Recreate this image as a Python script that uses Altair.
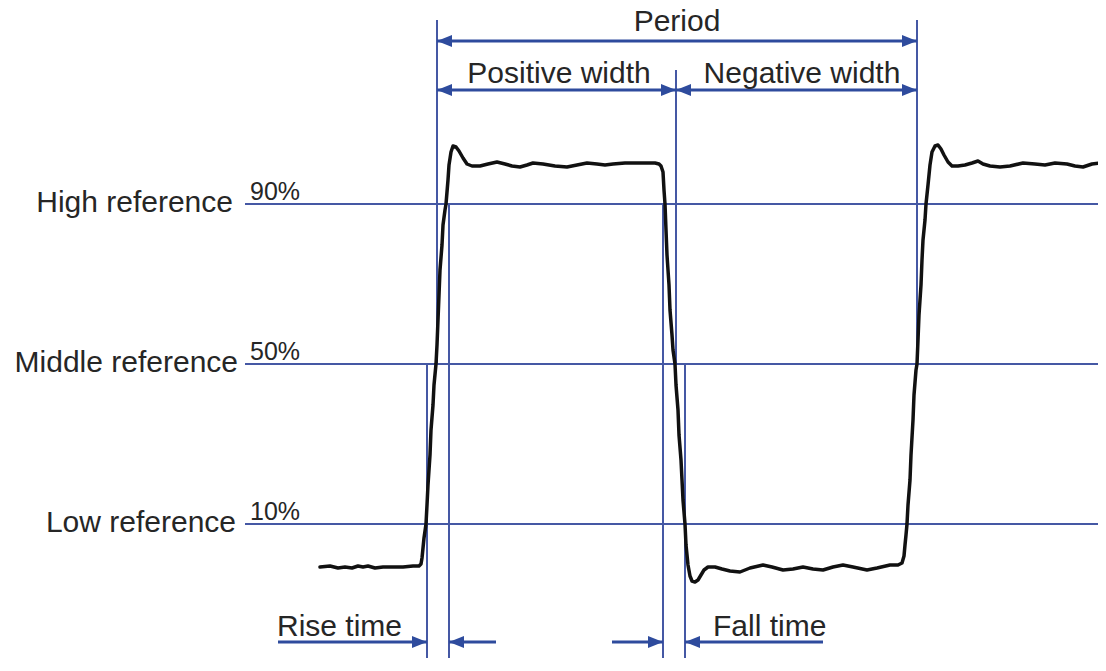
import altair as alt
import pandas as pd

# ---------------- waveform (time units, level in % of amplitude) ----------------
t_low1 = [320, 330, 338, 345, 352, 358, 363, 368, 375, 383, 393, 403, 413, 419]
v_low1 = [-0.75, -0.5, -1, -0.75, -1, -0.5, -0.75, -0.5, -1, -0.75, -0.75, -0.75, -0.5, -0.5]

t_rise1 = [421, 422, 423, 424, 426, 427, 428, 430, 431, 433, 434, 436, 437, 438, 439, 440, 442, 443, 445, 446]
v_rise1 = [0, 1.5, 4, 6.5, 10, 14.75, 19.75, 27.25, 33.5, 39.75, 44.75, 50, 54.75, 61, 67.25, 73.5, 79.75, 84.75, 88.5, 90]

t_top1 = [448, 449, 451, 453, 456, 459, 463, 467, 472, 480, 488, 497, 505, 512, 520, 527, 533, 543, 555, 567,
          577, 587, 597, 605, 613, 625, 640, 650, 655, 659, 661]
v_top1 = [96, 99.75, 103, 104.5, 104.25, 103.25, 101.5, 100, 99.5, 99.5, 100, 100.5, 100, 99.5, 99.25, 99.75,
          100.25, 100, 99.5, 99.25, 99.75, 100.25, 100, 99.75, 100, 100.25, 100.25, 100.25, 100.25, 100, 99.5]

t_fall = [663, 664, 665, 666, 667, 669, 670, 672, 673, 675, 676, 678, 679, 681, 682, 683, 685, 686, 688, 690,
          692, 695, 698, 701, 704, 708]
v_fall = [98, 93.5, 90, 83.5, 77.25, 69.75, 63.5, 57.25, 53.5, 50, 44.75, 38.5, 32.25, 26, 21, 16, 10, 4.75,
          -0.25, -3, -4.25, -4.5, -4, -2.75, -1.5, -0.75]

t_low2 = [715, 722, 730, 740, 750, 763, 772, 783, 793, 803, 813, 823, 833, 843, 853, 867, 877, 890, 898]
v_low2 = [-0.75, -1.25, -1.75, -2, -1, -0.25, -0.75, -1.5, -1.25, -0.75, -1.25, -1.5, -0.75, -0.25, -0.75,
          -1.5, -1, -0.25, -0.25]

t_rise2 = [902, 904, 905, 906, 907, 908, 910, 911, 913, 914, 916, 917, 918, 919, 921, 922, 923, 925, 926]
v_rise2 = [0.25, 2, 4.75, 7.25, 10, 14.75, 21, 27.25, 36, 42.25, 48.5, 50, 56, 62.25, 69.75, 76, 81, 86, 90]

t_top2 = [928, 930, 932, 935, 938, 941, 944, 948, 952, 958, 965, 972, 978, 983, 990, 1000, 1010, 1023, 1035,
          1045, 1055, 1067, 1075, 1083, 1092, 1100, 1106]
v_top2 = [94.75, 99.75, 103, 104.5, 104.75, 103.75, 102.25, 100.5, 99.5, 99.5, 99.75, 100.25, 100.75, 100,
          99.5, 99.25, 99.5, 100.25, 100, 99.75, 100.25, 100, 99.5, 99.25, 100, 100.25, 100.25]

# ---------------- reference levels ----------------
ref_levels = [90, 50, 10]
ref_names = ["High reference", "Middle reference", "Low reference"]
ref_name_end = [233, 238, 236]
ref_name_base = [88, 48, 8]
ref_pct = ["90%", "50%", "10%"]
ref_pct_base = [91, 51, 11]
ref_start, ref_end = 245, 1106

# ---------------- measurement guides (time, top level, bottom level) ----------------
guide_t = [437, 917, 676, 427, 449, 663, 685]
guide_top = [136, 136, 123.5, 50, 90, 90, 50]
guide_bot = [50, 50, 50, -27, -27, -27, -27]

# ---------------- dimension arrows ----------------
arrow_t1 = [437, 437, 676, 278, 449, 612, 685]
arrow_t2 = [917, 676, 917, 427, 496, 663, 823]
arrow_v = [130.75, 118.5, 118.5, -19.5, -19.5, -19.5, -19.5]

head_t = [437, 917, 437, 676, 676, 917, 427, 449, 663, 685]
head_v = [130.75, 130.75, 118.5, 118.5, 118.5, 118.5, -19.5, -19.5, -19.5, -19.5]
head_dir = ["left", "right", "left", "right", "left", "right", "right", "left", "right", "left"]

# ---------------- annotation texts ----------------
center_text = ["Period", "Positive width", "Negative width"]
center_t = [677, 559, 802]
center_v = [133.25, 120.25, 120.25]

left_text = ["Rise time", "Fall time"]
left_t = [277, 713]
left_v = [-18, -18]

# ---------------- build tables ----------------
wave_t = t_low1 + t_rise1 + t_top1 + t_fall + t_low2 + t_rise2 + t_top2
wave_v = v_low1 + v_rise1 + v_top1 + v_fall + v_low2 + v_rise2 + v_top2
wave = pd.DataFrame({"t": wave_t, "v": wave_v, "i": list(range(len(wave_t)))})

refs = pd.DataFrame({"v": ref_levels, "t1": [ref_start] * 3, "t2": [ref_end] * 3})
ref_lab = pd.DataFrame({"text": ref_names, "t": ref_name_end, "v": ref_name_base})
pct_lab = pd.DataFrame({"text": ref_pct, "t": [250] * 3, "v": ref_pct_base})
guides = pd.DataFrame({"t": guide_t, "v1": guide_top, "v2": guide_bot})
arrows = pd.DataFrame({"t1": arrow_t1, "t2": arrow_t2, "v": arrow_v})
heads = pd.DataFrame({"t": head_t, "v": head_v, "dir": head_dir})
ctext = pd.DataFrame({"text": center_text, "t": center_t, "v": center_v})
ltext = pd.DataFrame({"text": left_text, "t": left_t, "v": left_v})

xs = alt.Scale(domain=[8, 1098], nice=False, zero=False)
ys = alt.Scale(domain=[-23.5, 139], nice=False, zero=False)

LINE = "#4558a4"
ARROW = "#2e4b9d"
TEXT = "#262626"
FONT = "Liberation Sans"

ref_rules = alt.Chart(refs).mark_rule(color=LINE, strokeWidth=2, clip=True).encode(
    x=alt.X("t1:Q", scale=xs, axis=None), x2="t2:Q", y=alt.Y("v:Q", scale=ys, axis=None))

guide_rules = alt.Chart(guides).mark_rule(color=LINE, strokeWidth=2, clip=True).encode(
    x=alt.X("t:Q", scale=xs, axis=None), y=alt.Y("v1:Q", scale=ys, axis=None), y2="v2:Q")

wave_line = alt.Chart(wave).mark_line(color="#111111", strokeWidth=3.5, strokeJoin="round",
                                       strokeCap="round", clip=True).encode(
    x=alt.X("t:Q", scale=xs, axis=None), y=alt.Y("v:Q", scale=ys, axis=None), order="i:Q")

arrow_rules = alt.Chart(arrows).mark_rule(color=ARROW, strokeWidth=2.8).encode(
    x=alt.X("t1:Q", scale=xs, axis=None), x2="t2:Q", y=alt.Y("v:Q", scale=ys, axis=None))

arrow_heads = alt.Chart(heads).mark_point(filled=True, size=225, opacity=1, color=ARROW, strokeWidth=0).encode(
    x=alt.X("t:Q", scale=xs, axis=None), y=alt.Y("v:Q", scale=ys, axis=None),
    shape=alt.Shape("dir:N", legend=None,
                    scale=alt.Scale(domain=["left", "right"],
                                    range=["M0,0L2,-0.8L2,0.8Z", "M0,0L-2,-0.8L-2,0.8Z"])))

ref_text = alt.Chart(ref_lab).mark_text(align="right", baseline="alphabetic", font=FONT, fontSize=30,
                                          color=TEXT).encode(
    x=alt.X("t:Q", scale=xs, axis=None), y=alt.Y("v:Q", scale=ys, axis=None), text="text:N")

pct_text = alt.Chart(pct_lab).mark_text(align="left", baseline="alphabetic", font=FONT, fontSize=25,
                                          color=TEXT).encode(
    x=alt.X("t:Q", scale=xs, axis=None), y=alt.Y("v:Q", scale=ys, axis=None), text="text:N")

c_text = alt.Chart(ctext).mark_text(align="center", baseline="alphabetic", font=FONT, fontSize=30,
                                      color=TEXT).encode(
    x=alt.X("t:Q", scale=xs, axis=None), y=alt.Y("v:Q", scale=ys, axis=None), text="text:N")

l_text = alt.Chart(ltext).mark_text(align="left", baseline="alphabetic", font=FONT, fontSize=30,
                                      color=TEXT).encode(
    x=alt.X("t:Q", scale=xs, axis=None), y=alt.Y("v:Q", scale=ys, axis=None), text="text:N")

chart = alt.layer(
    ref_rules, guide_rules, wave_line, arrow_rules, arrow_heads, ref_text, pct_text, c_text, l_text
).properties(
    width=1090, height=650, padding=0, autosize="none", background="white"
).configure_view(stroke=None)

chart.save("out.html", embed_options={"renderer": "svg", "actions": False})
